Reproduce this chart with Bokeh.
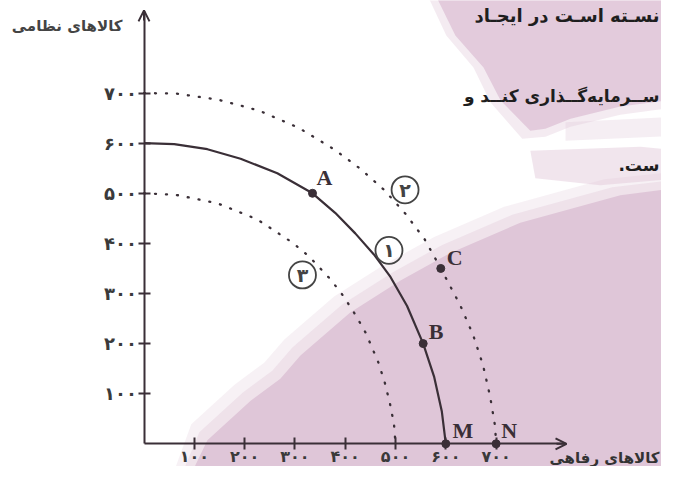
from bokeh.plotting import figure
from bokeh.models import Range1d, LinearAxis, FixedTicker, Arrow, OpenHead, ColumnDataSource
from bokeh.core.properties import value
from bokeh.embed import file_html
from bokeh.resources import INLINE

# ---------------- data ----------------
X_TICKS = [100, 200, 300, 400, 500, 600, 700]
X_TICK_LABELS = ["۱۰۰", "۲۰۰", "۳۰۰", "۴۰۰", "۵۰۰", "۶۰۰", "۷۰۰"]
Y_TICKS = [100, 200, 300, 400, 500, 600, 700]
Y_TICK_LABELS = ["۱۰۰", "۲۰۰", "۳۰۰", "۴۰۰", "۵۰۰", "۶۰۰", "۷۰۰"]

# curve (1): solid production possibilities frontier
PPF1_X = [0, 60, 126, 192, 265, 335, 380, 420, 457, 490, 523, 555, 577, 592, 600]
PPF1_Y = [600, 598, 588, 569, 540, 500, 461, 420, 378, 333, 275, 200, 133, 65, 0]
# curve (2): dotted, outward shift
PPF2_X = [0, 64, 147, 229, 307, 379, 430, 477, 520, 558, 590, 628, 654, 674, 688, 698, 700]
PPF2_Y = [700, 699, 687, 665, 631, 587, 549, 507, 459, 408, 350, 278, 218, 157, 95, 35, 0]
# curve (3): dotted, inward shift
PPF3_X = [0, 63, 146, 225, 296, 328, 371, 397, 420, 441, 466, 479, 489, 497, 500]
PPF3_Y = [500, 497, 480, 448, 401, 374, 328, 294, 258, 221, 162, 121, 80, 39, 0]

POINT_NAMES = ["A", "B", "C", "M", "N"]
POINT_X = [335, 555, 590, 600, 700]
POINT_Y = [500, 200, 350, 0, 0]

CURVE_TAGS = ["۱", "۲", "۳"]
CURVE_TAG_X = [487, 519, 315]
CURVE_TAG_Y = [386, 507, 337]

X_TITLE = "کالاهای رفاهی"
Y_TITLE = "کالاهای نظامی"
SIDE_TEXT = ["نسـته اسـت در ایجـاد", "ســرمایه‌گــذاری کنــد و", "ست.\u200f"]

# background page decoration (pink book-page shapes), in chart units
BG_MAIN_X = [78, 126, 212, 271, 311, 410, 510, 609, 748, 947, 1067, 1067]
BG_MAIN_Y = [-93, 7, 86, 130, 176, 262, 326, 381, 441, 496, 512, -93]
BG_SOFT1_X = [62, 110, 196, 255, 295, 394, 494, 593, 732, 931, 1067, 1067]
BG_SOFT1_Y = [-93, 23, 102, 146, 192, 278, 342, 397, 457, 512, 528, -93]
BG_SOFT2_X = [46, 94, 180, 239, 279, 378, 478, 577, 716, 915, 1067, 1067]
BG_SOFT2_Y = [-93, 39, 118, 162, 208, 294, 358, 413, 473, 528, 544, -93]
BG_TOP_X = [575, 1067, 1067, 947, 848, 798, 768, 709, 675, 619]
BG_TOP_Y = [905, 905, 689, 673, 649, 629, 625, 685, 751, 815]
BG_TOP_SOFT_X = [559, 1067, 1067, 947, 848, 798, 752, 689, 655, 601]
BG_TOP_SOFT_Y = [905, 905, 673, 657, 633, 613, 609, 681, 751, 815]
BG_STREAK1_X = [838, 1067, 1067, 838]
BG_STREAK1_Y = [642, 653, 615, 605]
BG_STREAK2_X = [768, 987, 1067, 1067, 907, 778]
BG_STREAK2_Y = [585, 593, 585, 530, 516, 530]

# ---------------- style ----------------
INK = "#3a2f37"
PINK = "#dfc6d8"
PFONT = value("DejaVu Sans")
SFONT = value("Liberation Serif")

p = figure(width=661, height=466,
           x_range=Range1d(-285.3, 1028.8), y_range=Range1d(-45.3, 884.8),
           output_backend="svg", toolbar_location=None, min_border=0,
           x_axis_type=None, y_axis_type=None)
p.outline_line_color = None
p.background_fill_color = "white"
p.border_fill_color = "white"

# background shapes (soft edges built from stacked translucent layers)
p.patch(BG_SOFT2_X, BG_SOFT2_Y, fill_color=PINK, fill_alpha=0.25, line_color=None)
p.patch(BG_SOFT1_X, BG_SOFT1_Y, fill_color=PINK, fill_alpha=0.35, line_color=None)
p.patch(BG_MAIN_X, BG_MAIN_Y, fill_color=PINK, line_color=None)
p.patch(BG_TOP_SOFT_X, BG_TOP_SOFT_Y, fill_color=PINK, fill_alpha=0.35, line_color=None)
p.patch(BG_TOP_X, BG_TOP_Y, fill_color=PINK, fill_alpha=0.85, line_color=None)
p.patch(BG_STREAK1_X, BG_STREAK1_Y, fill_color=PINK, fill_alpha=0.3, line_color=None)
p.patch(BG_STREAK2_X, BG_STREAK2_Y, fill_color=PINK, fill_alpha=0.45, line_color=None)

# axes
common = dict(axis_line_color=INK, axis_line_width=2,
              major_tick_line_color=INK, major_tick_line_width=2,
              major_tick_in=6, major_tick_out=6,
              minor_tick_line_color=None,
              major_label_text_font="DejaVu Sans", major_label_text_font_style="bold",
              major_label_text_color="#3a3a3a")
xaxis = LinearAxis(fixed_location=0, bounds=(0, 838), ticker=FixedTicker(ticks=X_TICKS),
                   major_label_overrides=dict(zip(X_TICKS, X_TICK_LABELS)),
                   major_label_text_font_size="16px", major_label_standoff=-3, **common)
yaxis = LinearAxis(fixed_location=0, bounds=(0, 862), ticker=FixedTicker(ticks=Y_TICKS),
                   major_label_overrides=dict(zip(Y_TICKS, Y_TICK_LABELS)),
                   major_label_text_font_size="18px", major_label_standoff=1, **common)
p.add_layout(xaxis, "below")
p.add_layout(yaxis, "left")
p.add_layout(Arrow(end=OpenHead(size=11, line_width=2, line_color=INK),
                   x_start=820, y_start=0, x_end=840, y_end=0,
                   line_color=INK, line_width=2))
p.add_layout(Arrow(end=OpenHead(size=11, line_width=2, line_color=INK),
                   x_start=0, y_start=845, x_end=0, y_end=865,
                   line_color=INK, line_width=2))

# curves
p.line(PPF2_X, PPF2_Y, line_color=INK, line_width=2.3, line_dash="1 10", line_cap="round")
p.line(PPF3_X, PPF3_Y, line_color=INK, line_width=2.3, line_dash="1 10", line_cap="round")
p.line(PPF1_X, PPF1_Y, line_color=INK, line_width=2.2)

# points
p.scatter(POINT_X, POINT_Y, size=8, color=INK)
pts = ColumnDataSource(dict(x=POINT_X, y=POINT_Y, t=POINT_NAMES,
                            xo=[12, 13, 14, 17, 13], yo=[-16, -12, -11, -13, -13]))
p.text(x="x", y="y", text="t", x_offset="xo", y_offset="yo", source=pts,
       text_font=SFONT, text_font_style="bold", text_font_size="22px",
       text_align="center", text_baseline="middle", text_color=INK)

# circled curve tags
p.scatter(CURVE_TAG_X, CURVE_TAG_Y, size=27, fill_color=None, line_color="#444444", line_width=1.8)
p.text(CURVE_TAG_X, CURVE_TAG_Y, text=CURVE_TAGS, text_font=PFONT, text_font_style="bold",
       text_font_size="19px", text_align="center", text_baseline="middle", text_color="#444444")

# axis titles
p.text([-42.7], [833], text=[Y_TITLE], text_font=PFONT, text_font_style="bold",
       text_font_size="15px", text_align="right", text_baseline="middle", text_color="#444444")
p.text([1025], [-27.5], text=[X_TITLE], text_font=PFONT, text_font_style="bold",
       text_font_size="15px", text_align="right", text_baseline="middle", text_color="#333333")

# page text fragments
p.text([1025, 1025, 1025], [855, 695, 555.5], text=SIDE_TEXT, text_font=PFONT, text_font_style="bold",
       text_font_size=["18px", "17px", "17px"], text_align="right", text_baseline="middle",
       text_color="#1e1e1e")

open("out.html", "w").write(file_html(p, INLINE))
